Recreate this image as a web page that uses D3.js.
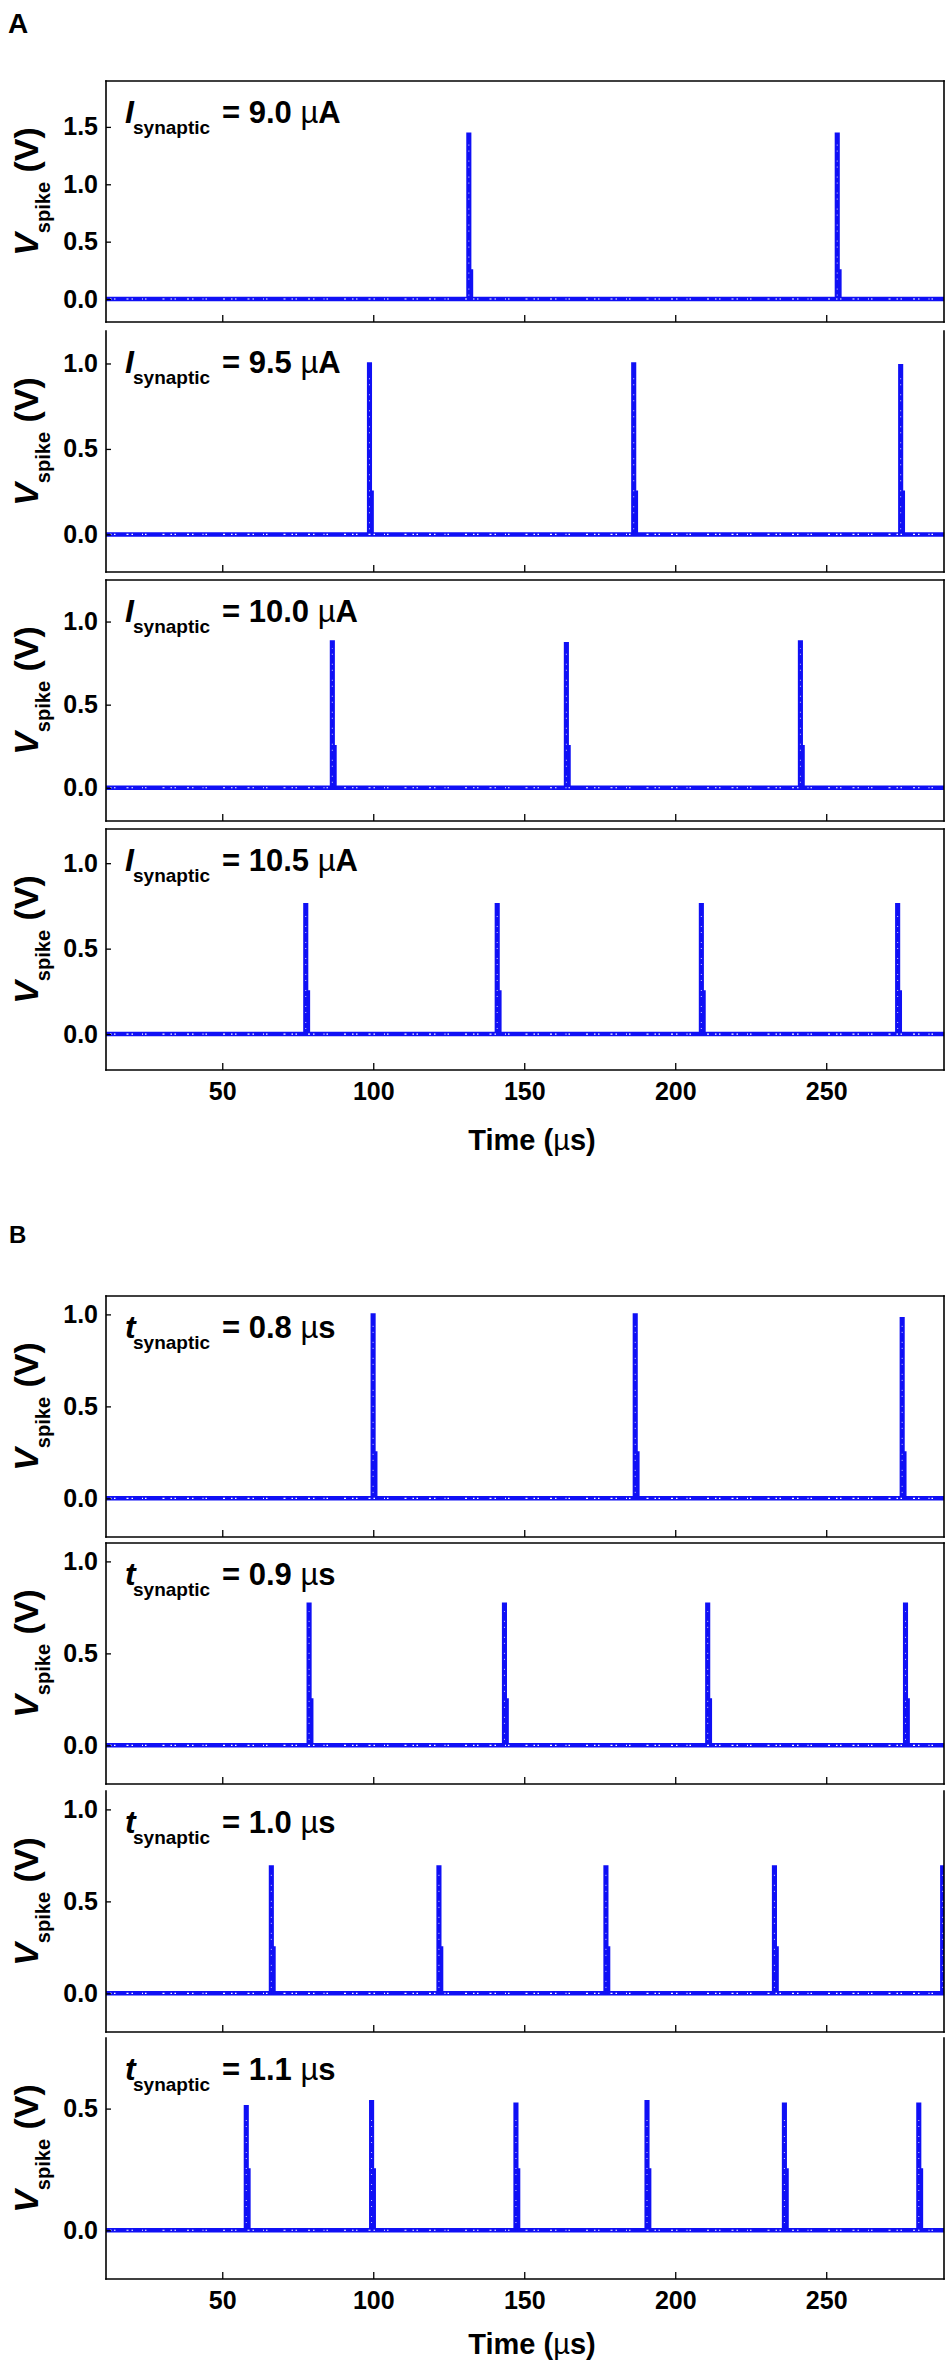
<!DOCTYPE html>
<html>
<head>
<meta charset="utf-8">
<script src="https://cdn.jsdelivr.net/npm/d3@7"></script>
<style>
body { margin: 0; background: #fff; }
svg { display: block; }
text { font-family: "Liberation Sans", Arial, sans-serif; font-weight: bold; fill: #000; }
</style>
</head>
<body>
<svg width="950" height="2361"></svg>
<script>
// ---- data ----
const timeDomain = [11.5, 289];
const timeTicks = [50, 100, 150, 200, 250];

// panel A: synaptic current
const currentLabels = ["9.0", "9.5", "10.0", "10.5"];
const spikeTimesA = [
    [131.2, 253.2],
    [98.3, 185.8, 274.2],
    [86.0, 163.5, 241.0],
    [77.2, 140.6, 208.2, 273.2]
];
const spikePeaksA = [
    [1.44, 1.44],
    [1.0, 1.0, 0.99],
    [0.88, 0.87, 0.88],
    [0.76, 0.76, 0.76, 0.76]
];
const yDomainsA = [[-0.2, 1.9], [-0.22, 1.19], [-0.2, 1.25], [-0.21, 1.2]];
const yTicksA = [[0, 0.5, 1, 1.5], [0, 0.5, 1], [0, 0.5, 1], [0, 0.5, 1]];

// panel B: synaptic duration
const durationLabels = ["0.8", "0.9", "1.0", "1.1"];
const spikeTimesB = [
    [99.5, 186.3, 274.7],
    [78.3, 143.0, 210.3, 275.8],
    [65.8, 121.3, 176.6, 232.4, 288.1],
    [57.5, 99.0, 146.8, 190.2, 235.7, 280.2]
];
const spikePeaksB = [
    [1.0, 1.0, 0.98],
    [0.77, 0.77, 0.77, 0.77],
    [0.69, 0.69, 0.69, 0.69, 0.69],
    [0.51, 0.53, 0.52, 0.53, 0.52, 0.52]
];
const yDomainsB = [[-0.21, 1.1], [-0.21, 1.1], [-0.21, 1.1], [-0.2, 0.79]];
const yTicksB = [[0, 0.5, 1], [0, 0.5, 1], [0, 0.5, 1], [0, 0.5]];

// spike shape (µs after onset, shoulder level in V)
const spikeTop = 0.9;
const spikeEnd = 1.5;
const shoulderLevel = 0.25;

// ---- layout ----
const left = 106, right = 944;
const topsA = [81, 331, 580, 829];
const topsB = [1296, 1543, 1791, 2038];
const panelH = 241;
const blue = "#1010f5";

const svg = d3.select("svg");
const x = d3.scaleLinear().domain(timeDomain).range([left, right]);
const fmt = d3.format(".1f");

const drawPanel = (id, top, yDom, yTicks, times, peaks, sym, value, unit, showTop, lastRow) => {
    const bottom = top + panelH;
    const y = d3.scaleLinear().domain(yDom).range([bottom, top]);
    const g = svg.append("g");

    svg.append("clipPath").attr("id", "clip" + id)
        .append("rect")
        .attr("x", left).attr("y", top)
        .attr("width", right - left).attr("height", panelH);

    // trace: flat baseline with a narrow spike at each onset
    const pts = [[timeDomain[0], 0]];
    times.forEach((t, i) => {
        pts.push([t, 0], [t, peaks[i]], [t + spikeTop, peaks[i]],
            [t + spikeTop, shoulderLevel], [t + spikeEnd, shoulderLevel], [t + spikeEnd, 0]);
    });
    pts.push([timeDomain[1], 0]);

    const line = d3.line().x(d => x(d[0])).y(d => y(d[1]));
    const plot = g.append("g").attr("clip-path", `url(#clip${id})`);

    plot.append("line")
        .attr("x1", left).attr("x2", right)
        .attr("y1", y(0)).attr("y2", y(0))
        .attr("stroke", blue).attr("stroke-width", 4.5);

    plot.append("path")
        .attr("d", line(pts))
        .attr("fill", blue)
        .attr("stroke", blue)
        .attr("stroke-width", 2.4);

    // white speckles from the scatter symbols
    plot.append("line")
        .attr("x1", left + 4).attr("x2", right)
        .attr("y1", y(0)).attr("y2", y(0))
        .attr("stroke", "#fff").attr("stroke-width", 1.1)
        .attr("stroke-dasharray", "1.5 2.5 1.5 11 2 3 1.5 9 1 2 1.5 16 2 6");

    times.forEach((t, i) => {
        plot.append("line")
            .attr("x1", x(t + spikeTop / 2)).attr("x2", x(t + spikeTop / 2))
            .attr("y1", y(0.03)).attr("y2", y(peaks[i] - 0.04))
            .attr("stroke", "#fff").attr("stroke-width", 0.8)
            .attr("stroke-dasharray", "1 5 1 9");
    });

    // y axis, ticks pointing in
    g.append("g")
        .attr("transform", `translate(${left},0)`)
        .call(d3.axisLeft(y).tickValues(yTicks).tickSize(-5).tickPadding(8).tickFormat(fmt))
        .call(a => a.select(".domain").remove())
        .call(a => a.selectAll("line").attr("stroke", "#000").attr("stroke-width", 1.3))
        .call(a => a.selectAll("text")
            .attr("font-size", 25)
            .attr("font-family", "Liberation Sans, Arial, sans-serif")
            .attr("font-weight", "bold"));

    // x axis
    g.append("g")
        .attr("transform", `translate(0,${bottom})`)
        .call(d3.axisBottom(x).tickValues(timeTicks).tickSize(-7).tickPadding(12)
            .tickFormat(lastRow ? d3.format("d") : ""))
        .call(a => a.select(".domain").remove())
        .call(a => a.selectAll("line").attr("stroke", "#000").attr("stroke-width", 1.3))
        .call(a => a.selectAll("text")
            .attr("font-size", 25)
            .attr("font-family", "Liberation Sans, Arial, sans-serif")
            .attr("font-weight", "bold"));

    // frame
    const frame = [[left, top, left, bottom], [left, bottom, right, bottom], [right, top, right, bottom]];
    if (showTop) frame.push([left, top, right, top]);
    frame.forEach(f => {
        g.append("line")
            .attr("x1", f[0]).attr("y1", f[1]).attr("x2", f[2]).attr("y2", f[3])
            .attr("stroke", "#000").attr("stroke-width", 1.6)
            .attr("stroke-linecap", "square");
    });

    // y label V_spike (V)
    const yl = g.append("text")
        .attr("transform", `translate(38,${(top + bottom) / 2 - 10}) rotate(-90)`)
        .attr("text-anchor", "middle");
    yl.append("tspan").attr("font-size", 34).attr("font-style", "italic").text("V");
    yl.append("tspan").attr("font-size", 20).attr("dy", 12).text("spike");
    yl.append("tspan").attr("font-size", 34).attr("dy", -12).text(" (V)");

    // annotation
    const ann = g.append("text").attr("y", top + 42);
    ann.append("tspan").attr("x", left + 19).attr("font-size", 32).attr("font-style", "italic").text(sym);
    ann.append("tspan").attr("x", left + 27).attr("dy", 11).attr("font-size", 19).text("synaptic");
    ann.append("tspan").attr("x", left + 116).attr("dy", -11).attr("font-size", 31).text("= " + value + " ");
    ann.append("tspan").attr("font-size", 31).attr("font-weight", "normal").text("\u00b5");
    ann.append("tspan").attr("font-size", 31).text(unit);
};

currentLabels.forEach((c, i) => {
    drawPanel("a" + i, topsA[i], yDomainsA[i], yTicksA[i], spikeTimesA[i], spikePeaksA[i],
        "I", c, "A", i !== 1, i === 3);
});

durationLabels.forEach((c, i) => {
    drawPanel("b" + i, topsB[i], yDomainsB[i], yTicksB[i], spikeTimesB[i], spikePeaksB[i],
        "t", c, "s", i < 2, i === 3);
});

// x titles
const xTitle = (yPos) => {
    const t = svg.append("text")
        .attr("x", (left + right) / 2 + 7).attr("y", yPos)
        .attr("text-anchor", "middle").attr("font-size", 29);
    t.append("tspan").text("Time (");
    t.append("tspan").attr("font-weight", "normal").text("\u00b5");
    t.append("tspan").text("s)");
};
xTitle(topsA[3] + panelH + 80);
xTitle(topsB[3] + panelH + 75);

// panel letters
svg.append("text").attr("x", 8).attr("y", 33).attr("font-size", 28).text("A");
svg.append("text").attr("x", 9).attr("y", 1243).attr("font-size", 24).text("B");
</script>
</body>
</html>
